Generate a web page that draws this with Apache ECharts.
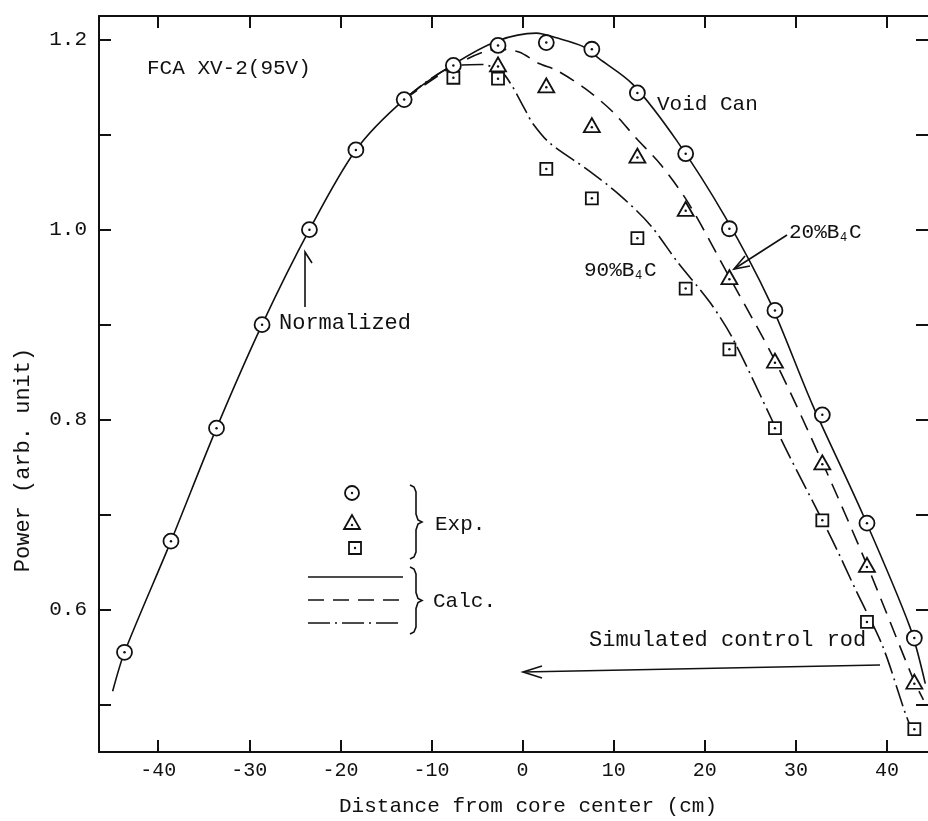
<!DOCTYPE html>
<html>
<head>
<meta charset="utf-8">
<script src="https://cdn.jsdelivr.net/npm/echarts@6/dist/echarts.min.js"></script>
<style>
  html, body { margin: 0; padding: 0; background: #fff; }
  #chart { width: 928px; height: 821px; }
</style>
</head>
<body>
<div id="chart"></div>
<script>
// measured points, [distance from core center (cm), power]
const voidCanExp = [[-43.7, 0.555], [-38.6, 0.672], [-33.6, 0.791], [-28.6, 0.900], [-23.4, 1.000],
  [-18.3, 1.084], [-13.0, 1.137], [-7.6, 1.173], [-2.7, 1.194], [2.6, 1.197], [7.6, 1.190],
  [12.6, 1.144], [17.9, 1.080], [22.7, 1.001], [27.7, 0.915], [32.9, 0.805], [37.8, 0.691], [43.0, 0.570]];
const b4c20Exp = [[-2.7, 1.174], [2.6, 1.152], [7.6, 1.110], [12.6, 1.078], [17.9, 1.022],
  [22.7, 0.950], [27.7, 0.862], [32.9, 0.755], [37.8, 0.647], [43.0, 0.524]];
const b4c90Exp = [[-7.6, 1.160], [-2.7, 1.159], [2.6, 1.064], [7.6, 1.033], [12.6, 0.991],
  [17.9, 0.938], [22.7, 0.874], [27.7, 0.791], [32.9, 0.694], [37.8, 0.587], [43.0, 0.474]];

// calculated curves
const voidCanCalc = [[-45.0, 0.514], [-43.7, 0.555], [-38.6, 0.672], [-33.6, 0.791], [-28.6, 0.900],
  [-23.4, 1.000], [-18.3, 1.084], [-13.0, 1.137], [-7.6, 1.174], [-2.7, 1.199], [1.5, 1.207],
  [3.7, 1.202], [6.6, 1.193], [8.4, 1.180], [12.1, 1.153], [16.9, 1.094], [22.2, 1.014],
  [27.1, 0.925], [31.8, 0.816], [37.4, 0.699], [42.5, 0.582], [44.2, 0.522]];
const b4c20Calc = [[-13.0, 1.137], [-7.6, 1.172], [-2.7, 1.190], [-0.4, 1.187], [1.8, 1.175],
  [3.7, 1.168], [6.8, 1.149], [9.8, 1.125], [12.5, 1.096], [15.2, 1.068], [18.2, 1.028],
  [22.7, 0.950], [27.7, 0.862], [32.9, 0.755], [37.8, 0.647], [43.0, 0.524], [44.0, 0.505]];
const b4c90Calc = [[-13.0, 1.137], [-7.6, 1.172], [-4.5, 1.174], [-2.3, 1.166], [-1.2, 1.152],
  [-0.5, 1.140], [0.4, 1.124], [1.1, 1.112], [3.0, 1.091], [7.0, 1.064], [10.6, 1.037],
  [14.0, 1.005], [17.0, 0.966], [20.6, 0.923], [23.2, 0.883], [28.8, 0.771], [33.9, 0.675],
  [36.7, 0.618], [39.5, 0.562], [42.0, 0.491], [42.6, 0.476]];

const xTicks = [-40, -30, -20, -10, 0, 10, 20, 30, 40];
const yTicks = [0.5, 0.6, 0.7, 0.8, 0.9, 1.0, 1.1, 1.2];
const yLabels = [0.6, 0.8, 1.0, 1.2];

const INK = '#111';
const FONT = '"Liberation Mono", "DejaVu Sans Mono", monospace';

function txt (x, y, s, size, align) {
  return {
    type: 'text', x: x, y: y, z: 100,
    style: {
      text: s, font: size + 'px ' + FONT, fill: INK,
      textAlign: align || 'left', textVerticalAlign: 'middle',
      align: align || 'left', verticalAlign: 'middle'
    }
  };
}
function pline (points, dash) {
  return {
    type: 'polyline', z: 100,
    shape: { points: points },
    style: { stroke: INK, lineWidth: 1.6, fill: null, lineDash: dash || null }
  };
}
// curly brace "}" between y0 and y1, tip at x + 12
function brace (x, y0, y1) {
  let m = (y0 + y1) / 2;
  return pline([[x, y0], [x + 4, y0 + 2], [x + 6, y0 + 7], [x + 6, m - 8], [x + 8, m - 2], [x + 12, m],
    [x + 8, m + 2], [x + 6, m + 8], [x + 6, y1 - 7], [x + 4, y1 - 2], [x, y1]]);
}

var myChart = echarts.init(document.getElementById('chart'));

const tickAxis = {
  type: 'value',
  axisLine: { show: true, onZero: false, lineStyle: { color: INK, width: 2 } },
  axisTick: { show: true, inside: true, length: 12, lineStyle: { color: INK, width: 2 } },
  splitLine: { show: false }
};
const markStyle = { color: '#fff', borderColor: INK, borderWidth: 1.8, opacity: 1 };
const dotStyle = { color: INK, opacity: 1 };

let option = {
  backgroundColor: '#fff',
  animation: false,
  grid: { left: 99, right: -3, top: 16, bottom: 69 },
  xAxis: [
    Object.assign({}, tickAxis, {
      position: 'bottom', min: -46.5, max: 44.5,
      axisTick: Object.assign({}, tickAxis.axisTick, { customValues: xTicks }),
      axisLabel: { customValues: xTicks, margin: 9, color: INK, fontSize: 20, fontFamily: FONT }
    }),
    Object.assign({}, tickAxis, {
      position: 'top', min: -46.5, max: 44.5,
      axisTick: Object.assign({}, tickAxis.axisTick, { customValues: xTicks }),
      axisLabel: { show: false }
    })
  ],
  yAxis: [
    Object.assign({}, tickAxis, {
      position: 'left', min: 0.45, max: 1.225,
      axisTick: Object.assign({}, tickAxis.axisTick, { customValues: yTicks }),
      axisLabel: {
        customValues: yLabels, margin: 12, color: INK, fontSize: 21, fontFamily: FONT,
        formatter: function (v) { return (+v).toFixed(1); }
      }
    }),
    Object.assign({}, tickAxis, {
      position: 'right', min: 0.45, max: 1.225,
      axisLine: { show: false, onZero: false },//右边框在图外
      axisTick: Object.assign({}, tickAxis.axisTick, { customValues: yTicks }),
      axisLabel: { show: false }
    })
  ],
  series: [
    {//Void Can calc
      type: 'line', data: voidCanCalc, symbol: 'none', smooth: 0.3, z: 2,
      lineStyle: { color: INK, width: 1.6, type: 'solid' }
    },
    {//20%B4C calc
      type: 'line', data: b4c20Calc, symbol: 'none', smooth: 0.3, z: 2,
      lineStyle: { color: INK, width: 1.6, type: [16, 9] }
    },
    {//90%B4C calc
      type: 'line', data: b4c90Calc, symbol: 'none', smooth: 0.3, z: 2,
      lineStyle: { color: INK, width: 1.6, type: [22, 5, 2, 5] }
    },
    { type: 'scatter', data: b4c90Exp, symbol: 'rect', symbolSize: 12, z: 3, itemStyle: markStyle },
    { type: 'scatter', data: b4c20Exp, symbol: 'triangle', symbolSize: [16, 14], z: 4, itemStyle: markStyle },
    { type: 'scatter', data: voidCanExp, symbol: 'circle', symbolSize: 15, z: 5, itemStyle: markStyle },
    // centre dots
    { type: 'scatter', data: b4c90Exp, symbolSize: 2.5, z: 6, itemStyle: dotStyle },
    { type: 'scatter', data: b4c20Exp, symbolSize: 2.5, symbolOffset: [0, 2], z: 6, itemStyle: dotStyle },
    { type: 'scatter', data: voidCanExp, symbolSize: 2.5, z: 6, itemStyle: dotStyle }
  ],
  graphic: [
    // axis names
    txt(528, 806, 'Distance from core center (cm)', 21, 'center'),
    Object.assign(txt(23, 460, 'Power (arb. unit)', 22, 'center'), { rotation: Math.PI / 2 }),
    // annotations
    txt(147, 68, 'FCA XV-2(95V)', 21),
    txt(657, 104, 'Void Can', 21),
    txt(789, 232, '20%B', 21), txt(840, 238, '4', 12), txt(849, 232, 'C', 21),
    txt(584, 270, '90%B', 21), txt(635, 276, '4', 12), txt(644, 270, 'C', 21),
    txt(279, 323, 'Normalized', 22),
    txt(589, 640, 'Simulated control rod', 22),
    pline([[305, 307], [305, 252], [312, 263]]),
    pline([[787, 235], [734, 269]]),
    pline([[745, 256], [734, 269], [750, 266]]),
    pline([[880, 665], [523, 672]]),
    pline([[542, 666], [523, 672], [542, 678]]),
    // key
    { type: 'circle', z: 100, shape: { cx: 352, cy: 493, r: 7 }, style: { fill: '#fff', stroke: INK, lineWidth: 1.8 } },
    { type: 'circle', z: 101, shape: { cx: 352, cy: 493, r: 1.2 }, style: { fill: INK } },
    { type: 'polygon', z: 100, shape: { points: [[352, 515], [344, 529], [360, 529]] }, style: { fill: '#fff', stroke: INK, lineWidth: 1.8 } },
    { type: 'circle', z: 101, shape: { cx: 352, cy: 525, r: 1.2 }, style: { fill: INK } },
    { type: 'rect', z: 100, shape: { x: 349, y: 542, width: 12, height: 12 }, style: { fill: '#fff', stroke: INK, lineWidth: 1.8 } },
    { type: 'circle', z: 101, shape: { cx: 355, cy: 548, r: 1.2 }, style: { fill: INK } },
    pline([[308, 577], [403, 577]]),
    pline([[308, 600], [402, 600]], [16, 9]),
    pline([[308, 623], [400, 623]], [22, 5, 2, 5]),
    brace(410, 485, 559),
    brace(410, 567, 634),
    txt(435, 524, 'Exp.', 21),
    txt(433, 601, 'Calc.', 21)
  ]
};
myChart.setOption(option);
</script>
</body>
</html>
